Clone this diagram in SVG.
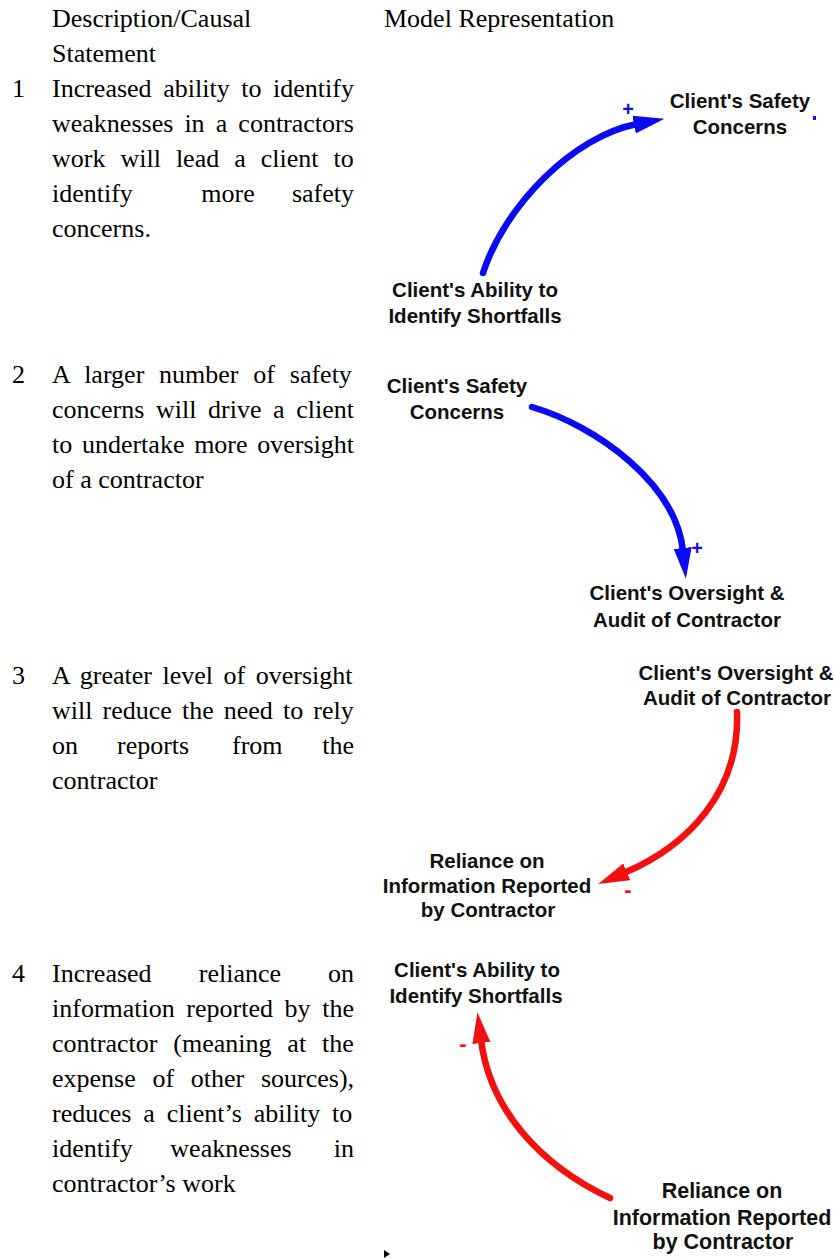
<svg xmlns="http://www.w3.org/2000/svg" width="835" height="1258" viewBox="0 0 835 1258">
<style>
.t{font-family:"Liberation Serif","Times New Roman",serif;font-size:26px;fill:#000}
.n{font-family:"Liberation Sans",Arial,sans-serif;font-size:20.5px;font-weight:bold;fill:#111;text-anchor:middle}
.nb{font-size:21.5px}
.pos{font-family:"Liberation Sans",Arial,sans-serif;font-size:20px;font-weight:bold;fill:#1010f0;text-anchor:middle}
.neg{font-family:"Liberation Sans",Arial,sans-serif;font-size:22px;font-weight:bold;fill:#f01010;text-anchor:middle}
.lb{fill:none;stroke:#0b0bf2;stroke-width:6.5;stroke-linecap:round;marker-end:url(#hb)}
.lr{fill:none;stroke:#f21010;stroke-width:6.5;stroke-linecap:round;marker-end:url(#hr)}
</style>
<defs>
<marker id="hb" markerUnits="userSpaceOnUse" viewBox="0 -10 32 20" markerWidth="32" markerHeight="20" refX="3" refY="0" orient="auto">
<polygon points="0,-9 31,0 0,9" fill="#0b0bf2"/>
</marker>
<marker id="hr" markerUnits="userSpaceOnUse" viewBox="0 -10 32 20" markerWidth="32" markerHeight="20" refX="3" refY="0" orient="auto">
<polygon points="0,-9 31,0 0,9" fill="#f21010"/>
</marker>
</defs>
<rect width="835" height="1258" fill="#fff"/>

<g id="left-text">
<text class="t" x="52" y="27">Description/Causal</text>
<text class="t" x="52" y="62">Statement</text>
<text class="t" x="384" y="27">Model Representation</text>

<text class="t" x="12" y="97">1</text>
<text class="t" x="52" y="97" word-spacing="5.1">Increased ability to identify</text>
<text class="t" x="52" y="132" word-spacing="4.6">weaknesses in a contractors</text>
<text class="t" x="52" y="167" word-spacing="8.5">work will lead a client to</text>
<text class="t" x="52" y="202">identify</text>
<text class="t" x="228" y="202" text-anchor="middle">more</text>
<text class="t" x="354" y="202" text-anchor="end">safety</text>
<text class="t" x="52" y="237">concerns.</text>

<text class="t" x="12" y="383">2</text>
<text class="t" x="52" y="383" word-spacing="8.3">A larger number of safety</text>
<text class="t" x="52" y="418" word-spacing="5.1">concerns will drive a client</text>
<text class="t" x="52" y="453" word-spacing="3.2">to undertake more oversight</text>
<text class="t" x="52" y="488">of a contractor</text>

<text class="t" x="12" y="684">3</text>
<text class="t" x="52" y="684" word-spacing="4.0">A greater level of oversight</text>
<text class="t" x="52" y="719" word-spacing="3.6">will reduce the need to rely</text>
<text class="t" x="52" y="754">on</text>
<text class="t" x="117" y="754">reports</text>
<text class="t" x="232" y="754">from</text>
<text class="t" x="354" y="754" text-anchor="end">the</text>
<text class="t" x="52" y="789">contractor</text>

<text class="t" x="12" y="982">4</text>
<text class="t" x="52" y="982">Increased</text>
<text class="t" x="240" y="982" text-anchor="middle">reliance</text>
<text class="t" x="354" y="982" text-anchor="end">on</text>
<text class="t" x="52" y="1017" word-spacing="5.1">information reported by the</text>
<text class="t" x="52" y="1052" word-spacing="9.4">contractor (meaning at the</text>
<text class="t" x="52" y="1087" word-spacing="10.2">expense of other sources),</text>
<text class="t" x="52" y="1122" word-spacing="5.4">reduces a client’s ability to</text>
<text class="t" x="52" y="1157">identify</text>
<text class="t" x="231" y="1157" text-anchor="middle">weaknesses</text>
<text class="t" x="354" y="1157" text-anchor="end">in</text>
<text class="t" x="52" y="1192">contractor’s work</text>
</g>

<g id="connectors">
<path class="lb" d="M483,273 C505,205 574,136 637,124"/>
<path class="lb" d="M532,407 C597,426 676,484 683,551"/>
<path class="lr" d="M737,712 C740,790 690,845 624,873"/>
<path class="lr" d="M610,1198 C540,1165 490,1110 481,1040"/>
<text class="pos" x="628" y="116">+</text>
<text class="pos" x="697" y="555">+</text>
<text class="neg" x="628" y="897">-</text>
<text class="neg" x="463" y="1051">-</text>
</g>

<g id="d1-safety">
<text class="n" x="740" y="108">Client's Safety</text>
<text class="n" x="740" y="134">Concerns</text>
<rect x="813" y="116" width="3" height="4" fill="#1010f0"/>
</g>
<g id="d1-ability">
<text class="n" x="475" y="297">Client's Ability to</text>
<text class="n" x="475" y="323">Identify Shortfalls</text>
</g>
<g id="d2-safety">
<text class="n" x="457" y="393">Client's Safety</text>
<text class="n" x="457" y="419">Concerns</text>
</g>
<g id="d2-oversight">
<text class="n" x="687" y="600">Client's Oversight &amp;</text>
<text class="n" x="687" y="627">Audit of Contractor</text>
</g>
<g id="d3-oversight">
<text class="n" x="736" y="680">Client's Oversight &amp;</text>
<text class="n" x="737" y="705">Audit of Contractor</text>
</g>
<g id="d3-reliance">
<text class="n" x="487" y="868">Reliance on</text>
<text class="n" x="487" y="893">Information Reported</text>
<text class="n" x="488" y="917">by Contractor</text>
</g>
<g id="d4-ability">
<text class="n" x="477" y="977">Client's Ability to</text>
<text class="n" x="476" y="1003">Identify Shortfalls</text>
</g>
<g id="d4-reliance">
<text class="n nb" x="722" y="1198">Reliance on</text>
<text class="n nb" x="722" y="1225">Information Reported</text>
<text class="n nb" x="723" y="1249">by Contractor</text>
</g>
<polygon points="384,1250 390,1254 384,1258" fill="#000"/>
</svg>
